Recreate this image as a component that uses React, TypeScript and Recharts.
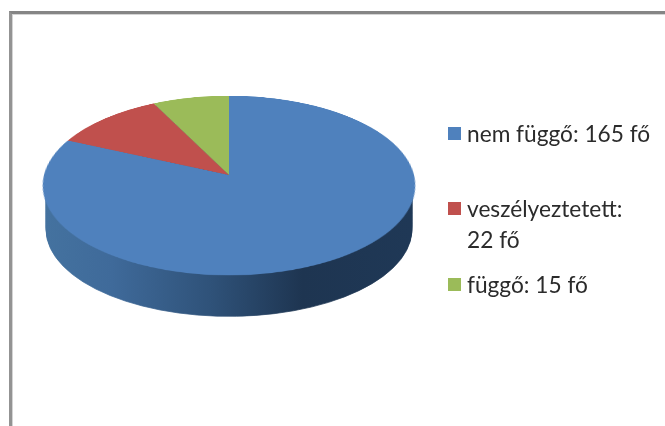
import { PieChart, Pie, Cell } from "recharts";

const NAMES = ["nem függő", "veszélyeztetett", "függő"];
const VALUES = [165, 22, 15];
const COLORS = ["#4F81BD", "#C0504D", "#9BBB59"];
const UNIT = "fő";

// offsets of the stacked discs that build up the pie's side wall
const WALL_STEPS = Array.from({ length: 32 }, (_, i) => i * 3);

const data = NAMES.map((name, i) => ({ name, value: VALUES[i] }));

const FONT = "Lato, 'Open Sans', sans-serif";

function Side() {
  return (
    <div
      style={{
        position: "absolute",
        left: 29,
        top: 95,
        transform: "scaleY(0.475)",
        transformOrigin: "0 0",
      }}
    >
      <PieChart width={400} height={500} margin={{ top: 0, right: 0, bottom: 0, left: 0 }}>
        <defs>
          <linearGradient id="wall" gradientUnits="userSpaceOnUse" x1="17" y1="0" x2="383" y2="0">
            <stop offset="0" stopColor="#44729F" />
            <stop offset="0.18" stopColor="#3F6A9A" />
            <stop offset="0.45" stopColor="#2F5279" />
            <stop offset="0.7" stopColor="#1E3551" />
            <stop offset="1" stopColor="#1F3856" />
          </linearGradient>
        </defs>
        {WALL_STEPS.map((step) => (
          <Pie
            key={step}
            data={data}
            dataKey="value"
            cx={200}
            cy={190 + step}
            innerRadius={0}
            outerRadius={183}
            startAngle={90}
            endAngle={-270}
            fill="url(#wall)"
            stroke="url(#wall)"
            strokeWidth={1}
            isAnimationActive={false}
            labelLine={false}
            legendType="none"
          />
        ))}
      </PieChart>
    </div>
  );
}

function Top() {
  return (
    <div
      style={{
        position: "absolute",
        left: 29,
        top: -25,
        width: 400,
        height: 400,
        transformOrigin: "200px 200px",
        transform: "perspective(1386px) rotateX(61.4deg)",
      }}
    >
      <PieChart width={400} height={400} margin={{ top: 0, right: 0, bottom: 0, left: 0 }}>
        <Pie
          data={data}
          dataKey="value"
          cx={200}
          cy={200}
          innerRadius={0}
          outerRadius={185}
          startAngle={90}
          endAngle={-270}
          stroke="none"
          isAnimationActive={false}
          labelLine={false}
        >
          {data.map((d, i) => (
            <Cell key={d.name} fill={COLORS[i]} />
          ))}
        </Pie>
      </PieChart>
    </div>
  );
}

const LEGEND_TOPS = [118, 193, 269];

function LegendBox() {
  return (
    <>
      {data.map((d, i) => (
        <div
          key={d.name}
          style={{
            position: "absolute",
            left: 448,
            top: LEGEND_TOPS[i],
            width: 212,
            display: "flex",
            fontFamily: FONT,
            fontSize: 22.7,
            lineHeight: "31px",
            color: "#2b2b2b",
          }}
        >
          <span
            style={{
              flex: "none",
              width: 13,
              height: 13,
              marginTop: 9,
              marginRight: 6,
              background: COLORS[i],
            }}
          />
          <span style={{ width: 193 }}>
            {d.name}: <span style={{ whiteSpace: "nowrap" }}>{d.value} {UNIT}</span>
          </span>
        </div>
      ))}
    </>
  );
}

export default function App() {
  return (
    <div
      style={{
        position: "absolute",
        left: 0,
        top: 0,
        width: 665,
        height: 426,
        overflow: "hidden",
        background: "#fff",
        filter: "blur(0.5px)",
      }}
    >
      <div
        style={{
          position: "absolute",
          left: 9,
          top: 11,
          width: 700,
          height: 500,
          borderLeft: "3px solid #939393",
          borderTop: "3px solid #858585",
          boxShadow: "inset 1px 1px 0 #d4d4d4",
        }}
      />
      <Side />
      <Top />
      <LegendBox />
    </div>
  );
}
